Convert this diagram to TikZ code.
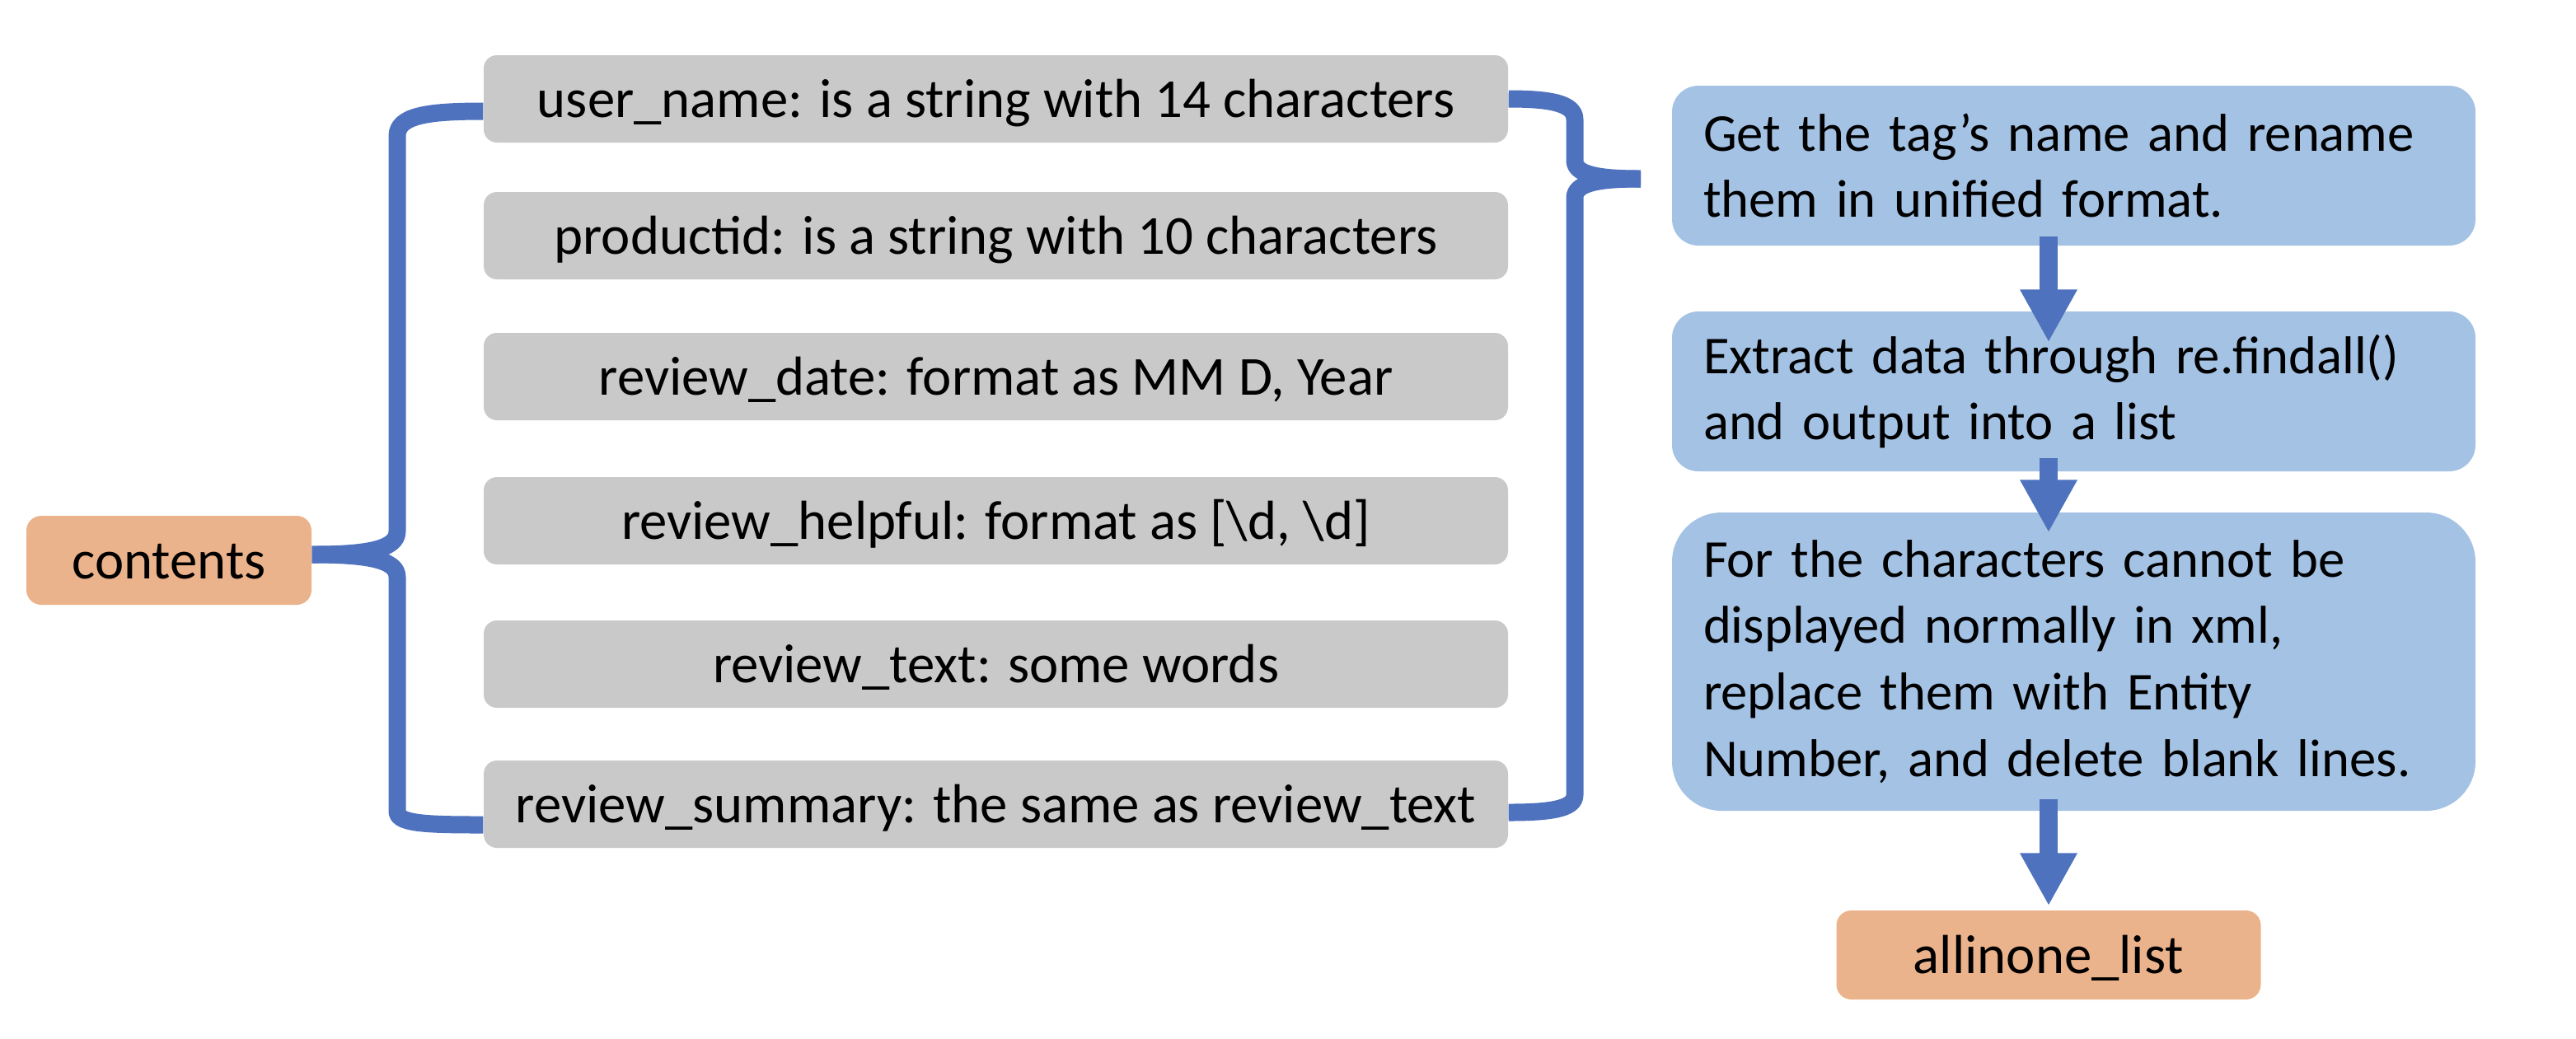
\documentclass[tikz,border=0pt]{standalone}
\usepackage{fontspec}
\setmainfont{Carlito}
\usetikzlibrary{positioning,arrows.meta,calc}
\definecolor{trazo}{HTML}{4E72BE}
\definecolor{celeste}{HTML}{A4C2E4}
\definecolor{perla}{HTML}{C9C9C9}
\definecolor{melocoton}{HTML}{EBB38B}

\begin{document}
\begin{tikzpicture}[font=\fontsize{19pt}{23pt}\selectfont,
    campo/.style={fill=perla, rounded corners=0.16cm, minimum width=12.43cm,
      minimum height=1.06cm, text height=0.6cm, text depth=0.16cm, inner sep=0pt},
    extremo/.style={fill=melocoton, rounded corners=0.18cm, minimum height=1.08cm,
      text height=0.6cm, text depth=0.16cm, inner sep=0pt},
    paso/.style={fill=celeste, rounded corners=0.32cm, text width=8.99cm,
      inner xsep=0.38cm, inner ysep=0pt, align=left, minimum height=1.94cm,
      font=\fontsize{18.4pt}{23pt}\selectfont},
    brazo/.style={trazo, line width=0.21cm, line join=round},
    flecha/.style={trazo, line width=0.22cm, -{Triangle[width=0.65cm,length=0.64cm]}}]
        \useasboundingbox (0,0) rectangle (31.26,-12.60);
        \node[extremo, minimum width=3.46cm] (contents) at (2.05,-6.80) {contents};
        \foreach \n/\y/\t in {user/1.20/{user\_name: is a string with 14 characters},
            product/2.86/{productid: is a string with 10 characters},
            date/4.57/{review\_date: format as MM D, Year},
            helpful/6.32/{review\_helpful: format as [\textbackslash d, \textbackslash d]},
            text/8.06/{review\_text: some words},
            summary/9.76/{review\_summary: the same as review\_text}}
          \node[campo] (\n) at (12.085,-\y) {\t};
        % left brace
        \draw[brazo] ([yshift=-0.15cm]user.west) .. controls (5.2,-1.35) and (4.82,-1.40) .. (4.82,-1.65)
          -- (4.82,-6.45) .. controls (4.82,-6.68) and (4.4,-6.73) .. ([yshift=0.07cm]contents.east);
        \draw[brazo] ([yshift=0.07cm]contents.east) .. controls (4.4,-6.73) and (4.82,-6.78) .. (4.82,-7.0)
          -- (4.82,-9.85) .. controls (4.82,-10.0) and (5.2,-10.01) .. ([yshift=-0.25cm]summary.west);
        % right brace
        \coordinate (tip) at (19.91,-2.17);
        \draw[brazo] (user.east) .. controls (18.8,-1.20) and (19.11,-1.25) .. (19.11,-1.45)
          -- (19.11,-1.95) .. controls (19.11,-2.12) and (19.4,-2.17) .. (tip);
        \draw[brazo] (tip) .. controls (19.4,-2.17) and (19.11,-2.22) .. (19.11,-2.40)
          -- (19.11,-9.65) .. controls (19.11,-9.82) and (18.8,-9.86) .. ([yshift=-0.10cm]summary.east);
        \node[paso] (get) at (25.165,-2.01) {Get the tag’s name and rename\\them in unified format.};
        \node[paso] (extract) at (25.165,-4.75) {Extract data through re.findall()\\and output into a list};
        \node[paso, minimum height=3.62cm, rounded corners=0.6cm] (replace) at (25.165,-8.03)
          {For the characters cannot be\\displayed normally in xml,\\replace them with Entity\\Number, and delete blank lines.};
        \node[extremo, minimum width=5.15cm] (list) at (24.86,-11.59) {allinone\_list};
        \draw[flecha] ($(get.south -| list)+(0,0.12)$) -- ($(extract.north -| list)+(0,-0.38)$);
        \draw[flecha] ($(extract.south -| list)+(0,0.17)$) -- ($(replace.north -| list)+(0,-0.25)$);
        \draw[flecha] ($(replace.south -| list)+(0,0.15)$) -- ($(list.north)+(0,0.05)$);
      \end{tikzpicture}
\end{document}
